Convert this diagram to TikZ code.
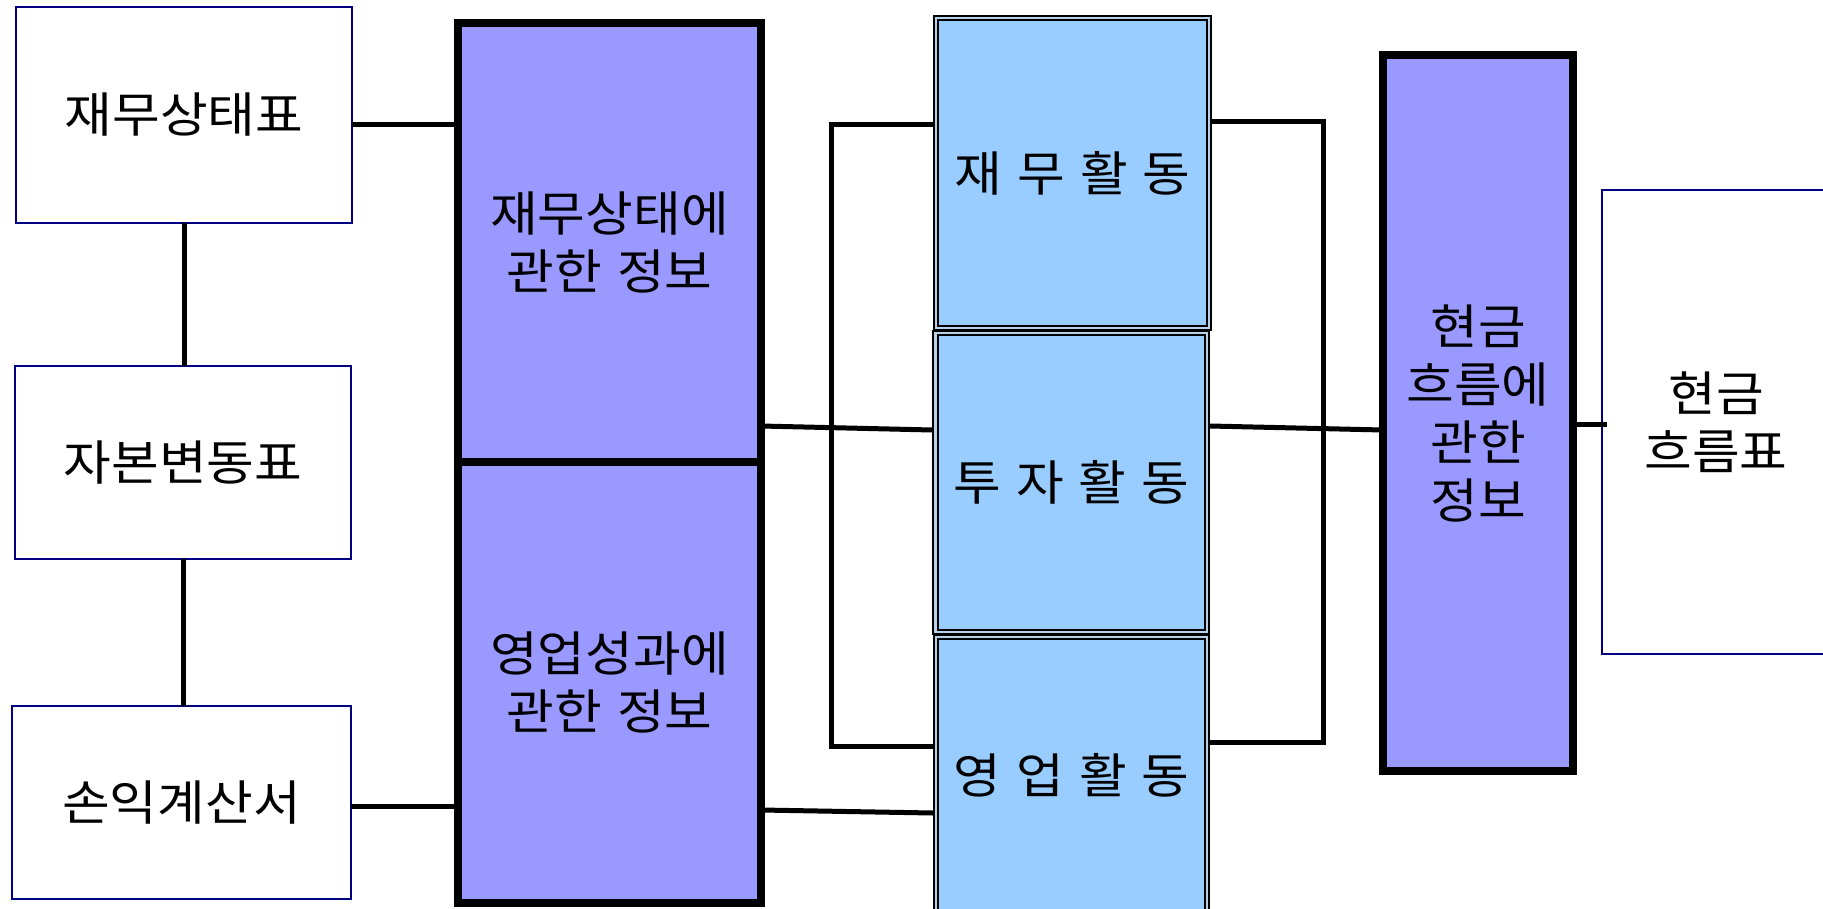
\documentclass[tikz,border=0pt]{standalone}
\usepackage{fontspec}
\newfontfamily\krfam{Noto Sans CJK KR}[FakeStretch=1.08, WordSpace=1.3]
\usetikzlibrary{calc}
\definecolor{navyb}{HTML}{000080}
\definecolor{purp}{HTML}{9999FF}
\definecolor{lblue}{HTML}{99CCFF}
\definecolor{gapc}{HTML}{B8D0EA}
\newcommand\krtext{\krfam\fontsize{48pt}{58pt}\selectfont}
\begin{document}
\begin{tikzpicture}[x=1pt,y=-1pt,
  wbox/.style={rectangle, draw=navyb, line width=1.5pt, fill=white, inner sep=0pt, outer sep=0pt, align=center, font=\krtext},
  pbox/.style={rectangle, draw=black, line width=8pt, fill=purp, inner sep=0pt, outer sep=0pt, align=center, font=\krtext},
  abox/.style={rectangle, draw=black, line width=2pt, double=gapc, double distance=2.5pt, fill=lblue, inner sep=0pt, outer sep=0pt, align=center, font=\krtext},
  conn/.style={draw=black, line width=5pt}]
\useasboundingbox (0,0) rectangle (1823,908);
\clip (0,0) rectangle (1823,908);
% white boxes
\node[wbox, minimum width=336pt, minimum height=216pt] (b1) at (184,115) {재무상태표};
\node[wbox, minimum width=336pt, minimum height=193pt] (b2) at (183,462.5) {자본변동표};
\node[wbox, minimum width=339pt, minimum height=193pt] (b3) at (181.5,802.5) {손익계산서};
\node[wbox, minimum width=228pt, minimum height=464pt] (b4) at (1716,422) {현금\\흐름표};
% purple boxes
\node[pbox, minimum width=303pt, minimum height=439pt] (p1) at (609.5,242.5) {재무상태에\\관한 정보};
\node[pbox, minimum width=303pt, minimum height=441pt] (p2) at (609.5,682.5) {영업성과에\\관한 정보};
\node[pbox, minimum width=190pt, minimum height=716pt] (pc) at (1478,413) {현금\\흐름에\\관한\\정보};
% activity boxes
\node[abox, minimum width=273pt, minimum height=310pt] (t1) at (1072.5,173) {재 무 활 동};
\node[abox, minimum width=271.5pt, minimum height=299pt] (t2) at (1071.25,482.5) {투 자 활 동};
\node[abox, minimum width=271pt, minimum height=276pt] (t3) at (1071.5,775) {영 업 활 동};
% connectors
\draw[conn] ([yshift=-9pt]b1.east) -- ([yshift=-9pt]b1.east -| p1.west);
\draw[conn] (b1.south) -- (b1.south |- b2.north);
\draw[conn] (b2.south) -- (b2.south |- b3.north);
\draw[conn] ([yshift=-3.5pt]b3.east) -- ([yshift=-3.5pt]b3.east -| p2.west);
\draw[conn] ([yshift=36pt]p1.south east) -- ([xshift=-3pt,yshift=52.5pt]t2.west);
\draw[conn] ([yshift=-127.5pt]p2.east) -- ([xshift=-3pt,yshift=-38pt]t3.west);
\draw[conn] ([xshift=-3pt,yshift=49pt]t1.west) -- ++(-102,0) |- ([xshift=-3pt,yshift=29pt]t3.west);
\draw[conn] ([xshift=3pt,yshift=52pt]t1.east) -- ++(111,0) |- ([xshift=3pt,yshift=33pt]t3.east);
\draw[conn] ([xshift=3pt,yshift=56.5pt]t2.east) -- ([yshift=-17pt]pc.west);
\draw[conn] ([yshift=-11pt]pc.east) -- ([xshift=5pt,yshift=-2pt]b4.west);
\end{tikzpicture}
\end{document}
